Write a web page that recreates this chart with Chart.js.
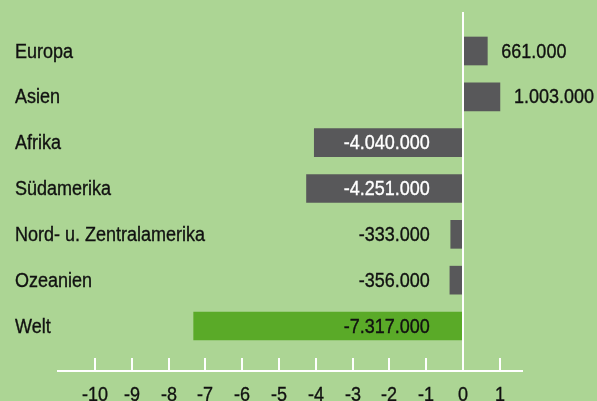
<!DOCTYPE html>
<html><head><meta charset="utf-8">
<script src="https://cdn.jsdelivr.net/npm/chart.js@4/dist/chart.umd.min.js"></script>
<style>
html,body{margin:0;padding:0;background:#acd594;overflow:hidden}
#wrap{position:relative;width:597px;height:401px}
</style></head>
<body><div id="wrap"><canvas id="c" width="597" height="401"></canvas></div>
<script>
const categories = ["Europa","Asien","Afrika","Südamerika","Nord- u. Zentralamerika","Ozeanien","Welt"];
const values = [0.661, 1.003, -4.040, -4.251, -0.333, -0.356, -7.317]; // Mio.
const valueLabels = ["661.000","1.003.000","-4.040.000","-4.251.000","-333.000","-356.000","-7.317.000"];
const tickValues = [-10,-9,-8,-7,-6,-5,-4,-3,-2,-1,0,1];
const tickLabels = ["-10","-9","-8","-7","-6","-5","-4","-3","-2","-1","0","1"];

const FONT = '"Liberation Sans",Arial,sans-serif';
const SQUEEZE = 0.9;
const GRAY = '#58585a', GREEN = '#5aaa28', INK = '#111111';
const barColors = categories.map(c => c === 'Welt' ? GREEN : GRAY);

function narrowText(ctx, text, x, y, align) {
  ctx.save();
  ctx.translate(x, y);
  ctx.scale(SQUEEZE, 1);
  ctx.textAlign = align;
  ctx.fillText(text, 0, 0);
  ctx.lineWidth = 0.35;
  ctx.strokeStyle = ctx.fillStyle;
  ctx.strokeText(text, 0, 0);
  ctx.restore();
}

const overlay = {
  id: 'overlay',
  afterDatasetsDraw(chart) {
    const ctx = chart.ctx, xs = chart.scales.x, ys = chart.scales.y, a = chart.chartArea;
    const x0 = xs.getPixelForValue(0);
    ctx.save();
    ctx.strokeStyle = '#ffffff'; ctx.lineWidth = 2;
    ctx.beginPath(); ctx.moveTo(x0, a.top); ctx.lineTo(x0, a.bottom); ctx.stroke();
    ctx.beginPath(); ctx.moveTo(a.left, a.bottom); ctx.lineTo(a.right, a.bottom); ctx.stroke();
    ctx.font = '20px ' + FONT;
    ctx.textBaseline = 'alphabetic';
    tickValues.forEach((v, i) => {
      const x = Math.round(xs.getPixelForValue(v));
      ctx.strokeStyle = '#ffffff'; ctx.lineWidth = 2;
      ctx.beginPath(); ctx.moveTo(x, a.bottom); ctx.lineTo(x, a.bottom - 13); ctx.stroke();
      ctx.fillStyle = INK;
      narrowText(ctx, tickLabels[i], x, a.bottom + 30, 'center');
    });
    ctx.textBaseline = 'middle';
    categories.forEach((c, i) => {
      const y = ys.getPixelForValue(i) + 1;
      ctx.fillStyle = INK;
      narrowText(ctx, c, 15, y, 'left');
      const v = values[i];
      const xe = xs.getPixelForValue(v);
      if (v >= 0) {
        ctx.fillStyle = INK;
        narrowText(ctx, valueLabels[i], xe + 14, y, 'left');
      } else {
        const xr = xs.getPixelForValue(-0.9);
        const w = ctx.measureText(valueLabels[i]).width * SQUEEZE;
        const inside = xe < xr - w;
        ctx.fillStyle = (inside && barColors[i] === GRAY) ? '#ffffff' : INK;
        narrowText(ctx, valueLabels[i], xr, y, 'right');
      }
    });
    ctx.restore();
  }
};

new Chart(document.getElementById('c'), {
  type: 'bar',
  data: {
    datasets: [{
      data: values.map((v, i) => ({x: v, y: i})),
      backgroundColor: barColors,
      borderWidth: 0,
      barThickness: 28
    }]
  },
  options: {
    indexAxis: 'y',
    responsive: false,
    animation: false,
    events: [],
    layout: {padding: {left: 57, right: 74, top: 12, bottom: 0}},
    plugins: {legend: {display: false}, tooltip: {enabled: false}},
    scales: {
      y: {type: 'linear', reverse: true, offset: false, min: -0.851, max: 6.982, display: false},
      x: {
        type: 'linear', min: -11.03, max: 1.63,
        grid: {display: false}, border: {display: false},
        afterBuildTicks: s => { s.ticks = tickValues.map(v => ({value: v})); },
        afterFit: s => { s.height = 30; },
        ticks: {display: false}
      }
    }
  },
  plugins: [overlay]
});
</script></body></html>
